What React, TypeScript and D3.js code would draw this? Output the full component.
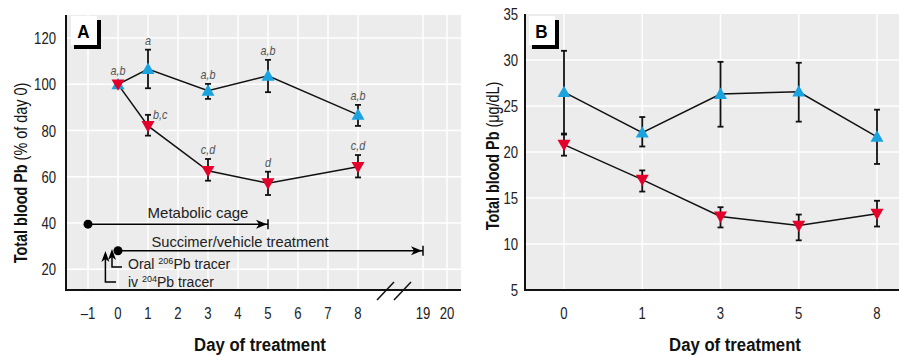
import React from 'react';
import * as d3 from 'd3';

// Panel A: % of day 0
const daysA = [0, 1, 3, 5, 8];
const succimerA = [100, 82, 62.6, 57.2, 64.3];
const succimerLoA = [100, 77.8, 58.3, 52.1, 59.7];
const succimerHiA = [100, 86.8, 67.7, 62.2, 69.4];
const vehicleA = [100, 106.6, 97.2, 103.7, 86.8];
const vehicleLoA = [100, 98.3, 93.7, 96.6, 82];
const vehicleHiA = [100, 115, 100.2, 110.6, 91.1];
const vehicleLettersA = ['a,b', 'a', 'a,b', 'a,b', 'a,b'];
const succimerLettersA = ['', 'b,c', 'c,d', 'd', 'c,d'];
const xTicksA = [-1, 0, 1, 2, 3, 4, 5, 6, 7, 8, 19, 20];
const yTicksA = [20, 40, 60, 80, 100, 120];

// Panel B: ug/dL
const daysB = ['0', '1', '3', '5', '8'];
const succimerB = [20.8, 17.0, 13.0, 12.0, 13.3];
const succimerLoB = [19.6, 15.7, 11.8, 10.4, 11.9];
const succimerHiB = [21.9, 18.0, 14.0, 13.2, 14.7];
const vehicleB = [26.5, 22.1, 26.3, 26.55, 21.65];
const vehicleLoB = [22.0, 20.6, 22.75, 23.3, 18.7];
const vehicleHiB = [31.0, 23.8, 29.8, 29.7, 24.6];
const yTicksB = [5, 10, 15, 20, 25, 30, 35];

const BLUE = '#1ba3e0';
const RED = '#e3002a';
const GREY = '#ececec';
const FONT = '"Liberation Sans", Arial, sans-serif';

// narrow text: Liberation Sans squeezed horizontally
const T = ({ x, y, size, sx = 0.82, anchor = 'start', weight, italic, fill = '#222', rotate, children }: any) => (
  <text
    transform={`translate(${x},${y})${rotate ? ` rotate(${rotate})` : ''} scale(${sx},1)`}
    textAnchor={anchor}
    fontFamily={FONT}
    fontSize={size}
    fontWeight={weight}
    fontStyle={italic ? 'italic' : undefined}
    fill={fill}
  >
    {children}
  </text>
);

const tri = (up: boolean) => {
  const s = 6.5;
  return up ? `M0,${-s} L${s},${s * 0.75} L${-s},${s * 0.75} Z` : `M0,${s} L${s},${-s * 0.75} L${-s},${-s * 0.75} Z`;
};

const ErrorBar = ({ x, y1, y2 }: { x: number; y1: number; y2: number }) => (
  <g stroke="#111" strokeWidth={1.8}>
    <line x1={x} x2={x} y1={y1} y2={y2} />
    <line x1={x - 3} x2={x + 3} y1={y1} y2={y1} />
    <line x1={x - 3} x2={x + 3} y1={y2} y2={y2} />
  </g>
);

const PanelLabel = ({ x, y, text }: { x: number; y: number; text: string }) => (
  <g>
    <rect x={x + 3} y={y + 4} width={27} height={29} fill="#000" />
    <rect x={x} y={y} width={26} height={29} fill="#fff" />
    <T x={x + 12.5} y={y + 22} anchor="middle" size={19} sx={0.9} weight="bold" fill="#000">{text}</T>
  </g>
);

const ArrowRight = ({ x, y }: { x: number; y: number }) => (
  <path d={`M${x},${y} L${x - 11},${y - 4.5} L${x - 8},${y} L${x - 11},${y + 4.5} Z`} fill="#000" />
);
const ArrowUp = ({ x, y }: { x: number; y: number }) => (
  <path d={`M${x},${y} L${x - 4},${y + 11} L${x},${y + 8} L${x + 4},${y + 11} Z`} fill="#000" />
);

const PanelA = () => {
  const top = 15, bottom = 290, left = 66, right = 461;
  const x = d3.scaleLinear().domain([-1, 8, 19, 20]).range([88, 358, 423, 447]);
  const y = d3.scaleLinear().domain([11, 130]).range([bottom, top]);
  const line = d3.line<number>().x((_, i) => x(daysA[i])).y(v => y(v));
  return (
    <g>
      <rect x={left} y={top} width={right - left} height={bottom - top} fill={GREY} />
      {xTicksA.map(t => (
        <line key={'gx' + t} x1={x(t)} x2={x(t)} y1={top} y2={bottom} stroke="#fff" strokeWidth={1.5} />
      ))}
      {yTicksA.map(t => (
        <line key={'gy' + t} x1={left} x2={right} y1={y(t)} y2={y(t)} stroke="#fff" strokeWidth={1.5} />
      ))}
      <line x1={left} x2={left} y1={top} y2={bottom + 1} stroke="#111" strokeWidth={2} />
      <line x1={left} x2={right} y1={bottom} y2={bottom} stroke="#111" strokeWidth={2} />
      {/* axis break */}
      <line x1={377} y1={300} x2={394} y2={282} stroke="#111" strokeWidth={1.5} />
      <line x1={394} y1={300} x2={411} y2={282} stroke="#111" strokeWidth={1.5} />
      {yTicksA.map(t => (
        <T key={'ty' + t} x={56} y={y(t) + 6} anchor="end" size={16}>{t}</T>
      ))}
      {xTicksA.map(t => (
        <T key={'tx' + t} x={x(t)} y={319} anchor="middle" size={16}>{t < 0 ? '\u2013' + Math.abs(t) : t}</T>
      ))}
      <T x={260} y={351} anchor="middle" size={19} sx={0.88} weight="bold" fill="#111">Day of treatment</T>
      <T x={27} y={173} rotate={-90} anchor="middle" size={18} sx={0.8} fill="#111">
        <tspan fontWeight="bold">Total blood Pb</tspan> (% of day 0)
      </T>

      {/* timeline annotations */}
      <line x1={x(-1)} x2={x(5)} y1={y(39.5)} y2={y(39.5)} stroke="#000" strokeWidth={1.5} />
      <circle cx={x(-1)} cy={y(39.5)} r={4.5} fill="#000" />
      <ArrowRight x={x(5) - 1} y={y(39.5)} />
      <line x1={x(5)} x2={x(5)} y1={y(39.5) - 5} y2={y(39.5) + 5} stroke="#000" strokeWidth={1.5} />
      <T x={198} y={218} anchor="middle" size={15} sx={1}>Metabolic cage</T>

      <line x1={x(0)} x2={x(19)} y1={y(28)} y2={y(28)} stroke="#000" strokeWidth={1.5} />
      <circle cx={x(0)} cy={y(28)} r={4.5} fill="#000" />
      <ArrowRight x={x(19) - 1} y={y(28)} />
      <line x1={x(19)} x2={x(19)} y1={y(28) - 5} y2={y(28) + 5} stroke="#000" strokeWidth={1.5} />
      <T x={240} y={247} anchor="middle" size={14.7} sx={1}>Succimer/vehicle treatment</T>

      <path d={`M${x(-0.2)},252 V267 H122`} fill="none" stroke="#000" strokeWidth={1.5} />
      <ArrowUp x={x(-0.2)} y={249} />
      <path d={`M${x(-0.42)},254 V282 H116`} fill="none" stroke="#000" strokeWidth={1.5} />
      <ArrowUp x={x(-0.42)} y={251} />
      <T x={128} y={269} size={14} sx={1}>Oral <tspan fontSize={9} dy={-5}>206</tspan><tspan dy={5}>Pb tracer</tspan></T>
      <T x={128} y={287} size={14} sx={1}>iv <tspan fontSize={9} dy={-5}>204</tspan><tspan dy={5}>Pb tracer</tspan></T>

      {/* data */}
      <path d={line(vehicleA) || ''} fill="none" stroke="#111" strokeWidth={1.5} />
      <path d={line(succimerA) || ''} fill="none" stroke="#111" strokeWidth={1.5} />
      {daysA.map((d, i) => i > 0 && <ErrorBar key={'ev' + d} x={x(d)} y1={y(vehicleHiA[i])} y2={y(vehicleLoA[i])} />)}
      {daysA.map((d, i) => i > 0 && <ErrorBar key={'es' + d} x={x(d)} y1={y(succimerHiA[i])} y2={y(succimerLoA[i])} />)}
      {daysA.map((d, i) => <path key={'mv' + d} d={tri(true)} transform={`translate(${x(d)},${y(vehicleA[i])})`} fill={BLUE} />)}
      {daysA.map((d, i) => <path key={'ms' + d} d={tri(false)} transform={`translate(${x(d)},${y(succimerA[i])})`} fill={RED} />)}
      {daysA.map((d, i) => (
        <T key={'lv' + d} x={x(d)} y={i === 0 ? y(vehicleA[i]) - 9 : y(vehicleHiA[i]) - 5} anchor="middle" italic size={12} sx={0.9} fill="#555">{vehicleLettersA[i]}</T>
      ))}
      {daysA.map((d, i) => succimerLettersA[i] && (
        <T key={'ls' + d} x={i === 1 ? x(d) + 5 : x(d)} y={i === 1 ? y(succimerHiA[i]) + 4 : y(succimerHiA[i]) - 5} anchor={i === 1 ? 'start' : 'middle'} italic size={12} sx={0.9} fill="#555">{succimerLettersA[i]}</T>
      ))}
      <PanelLabel x={71} y={16} text="A" />
    </g>
  );
};

const PanelB = () => {
  const top = 14, bottom = 290, left = 525, right = 899;
  const x = d3.scalePoint<string>().domain(daysB).range([564, 877]);
  const y = d3.scaleLinear().domain([5, 35]).range([bottom, top]);
  const line = d3.line<number>().x((_, i) => x(daysB[i]) as number).y(v => y(v));
  return (
    <g>
      <rect x={left} y={top} width={right - left} height={bottom - top} fill={GREY} />
      {daysB.map(t => (
        <line key={'gx' + t} x1={x(t)} x2={x(t)} y1={top} y2={bottom} stroke="#fff" strokeWidth={1.5} />
      ))}
      {yTicksB.slice(1, -1).map(t => (
        <line key={'gy' + t} x1={left} x2={right} y1={y(t)} y2={y(t)} stroke="#fff" strokeWidth={1.5} />
      ))}
      <line x1={left} x2={left} y1={top} y2={bottom + 1} stroke="#111" strokeWidth={2} />
      <line x1={left} x2={right} y1={bottom} y2={bottom} stroke="#111" strokeWidth={2} />
      {yTicksB.map(t => (
        <T key={'ty' + t} x={518} y={y(t) + 6} anchor="end" size={16}>{t}</T>
      ))}
      {daysB.map(t => (
        <T key={'tx' + t} x={x(t)} y={319} anchor="middle" size={16}>{t}</T>
      ))}
      <T x={735} y={351} anchor="middle" size={19} sx={0.88} weight="bold" fill="#111">Day of treatment</T>
      <T x={499} y={156} rotate={-90} anchor="middle" size={18} sx={0.8} fill="#111">
        <tspan fontWeight="bold">Total blood Pb</tspan> (μg/dL)
      </T>

      <path d={line(vehicleB) || ''} fill="none" stroke="#111" strokeWidth={1.5} />
      <path d={line(succimerB) || ''} fill="none" stroke="#111" strokeWidth={1.5} />
      {daysB.map((d, i) => <ErrorBar key={'ev' + d} x={x(d) as number} y1={y(vehicleHiB[i])} y2={y(vehicleLoB[i])} />)}
      {daysB.map((d, i) => <ErrorBar key={'es' + d} x={x(d) as number} y1={y(succimerHiB[i])} y2={y(succimerLoB[i])} />)}
      {daysB.map((d, i) => <path key={'mv' + d} d={tri(true)} transform={`translate(${x(d)},${y(vehicleB[i])})`} fill={BLUE} />)}
      {daysB.map((d, i) => <path key={'ms' + d} d={tri(false)} transform={`translate(${x(d)},${y(succimerB[i])})`} fill={RED} />)}
      <PanelLabel x={529} y={16} text="B" />
    </g>
  );
};

export default function App() {
  return (
    <svg width={899} height={356} style={{ position: 'absolute', left: 0, top: 0, background: '#fff' }}>
      <PanelA />
      <PanelB />
    </svg>
  );
}
